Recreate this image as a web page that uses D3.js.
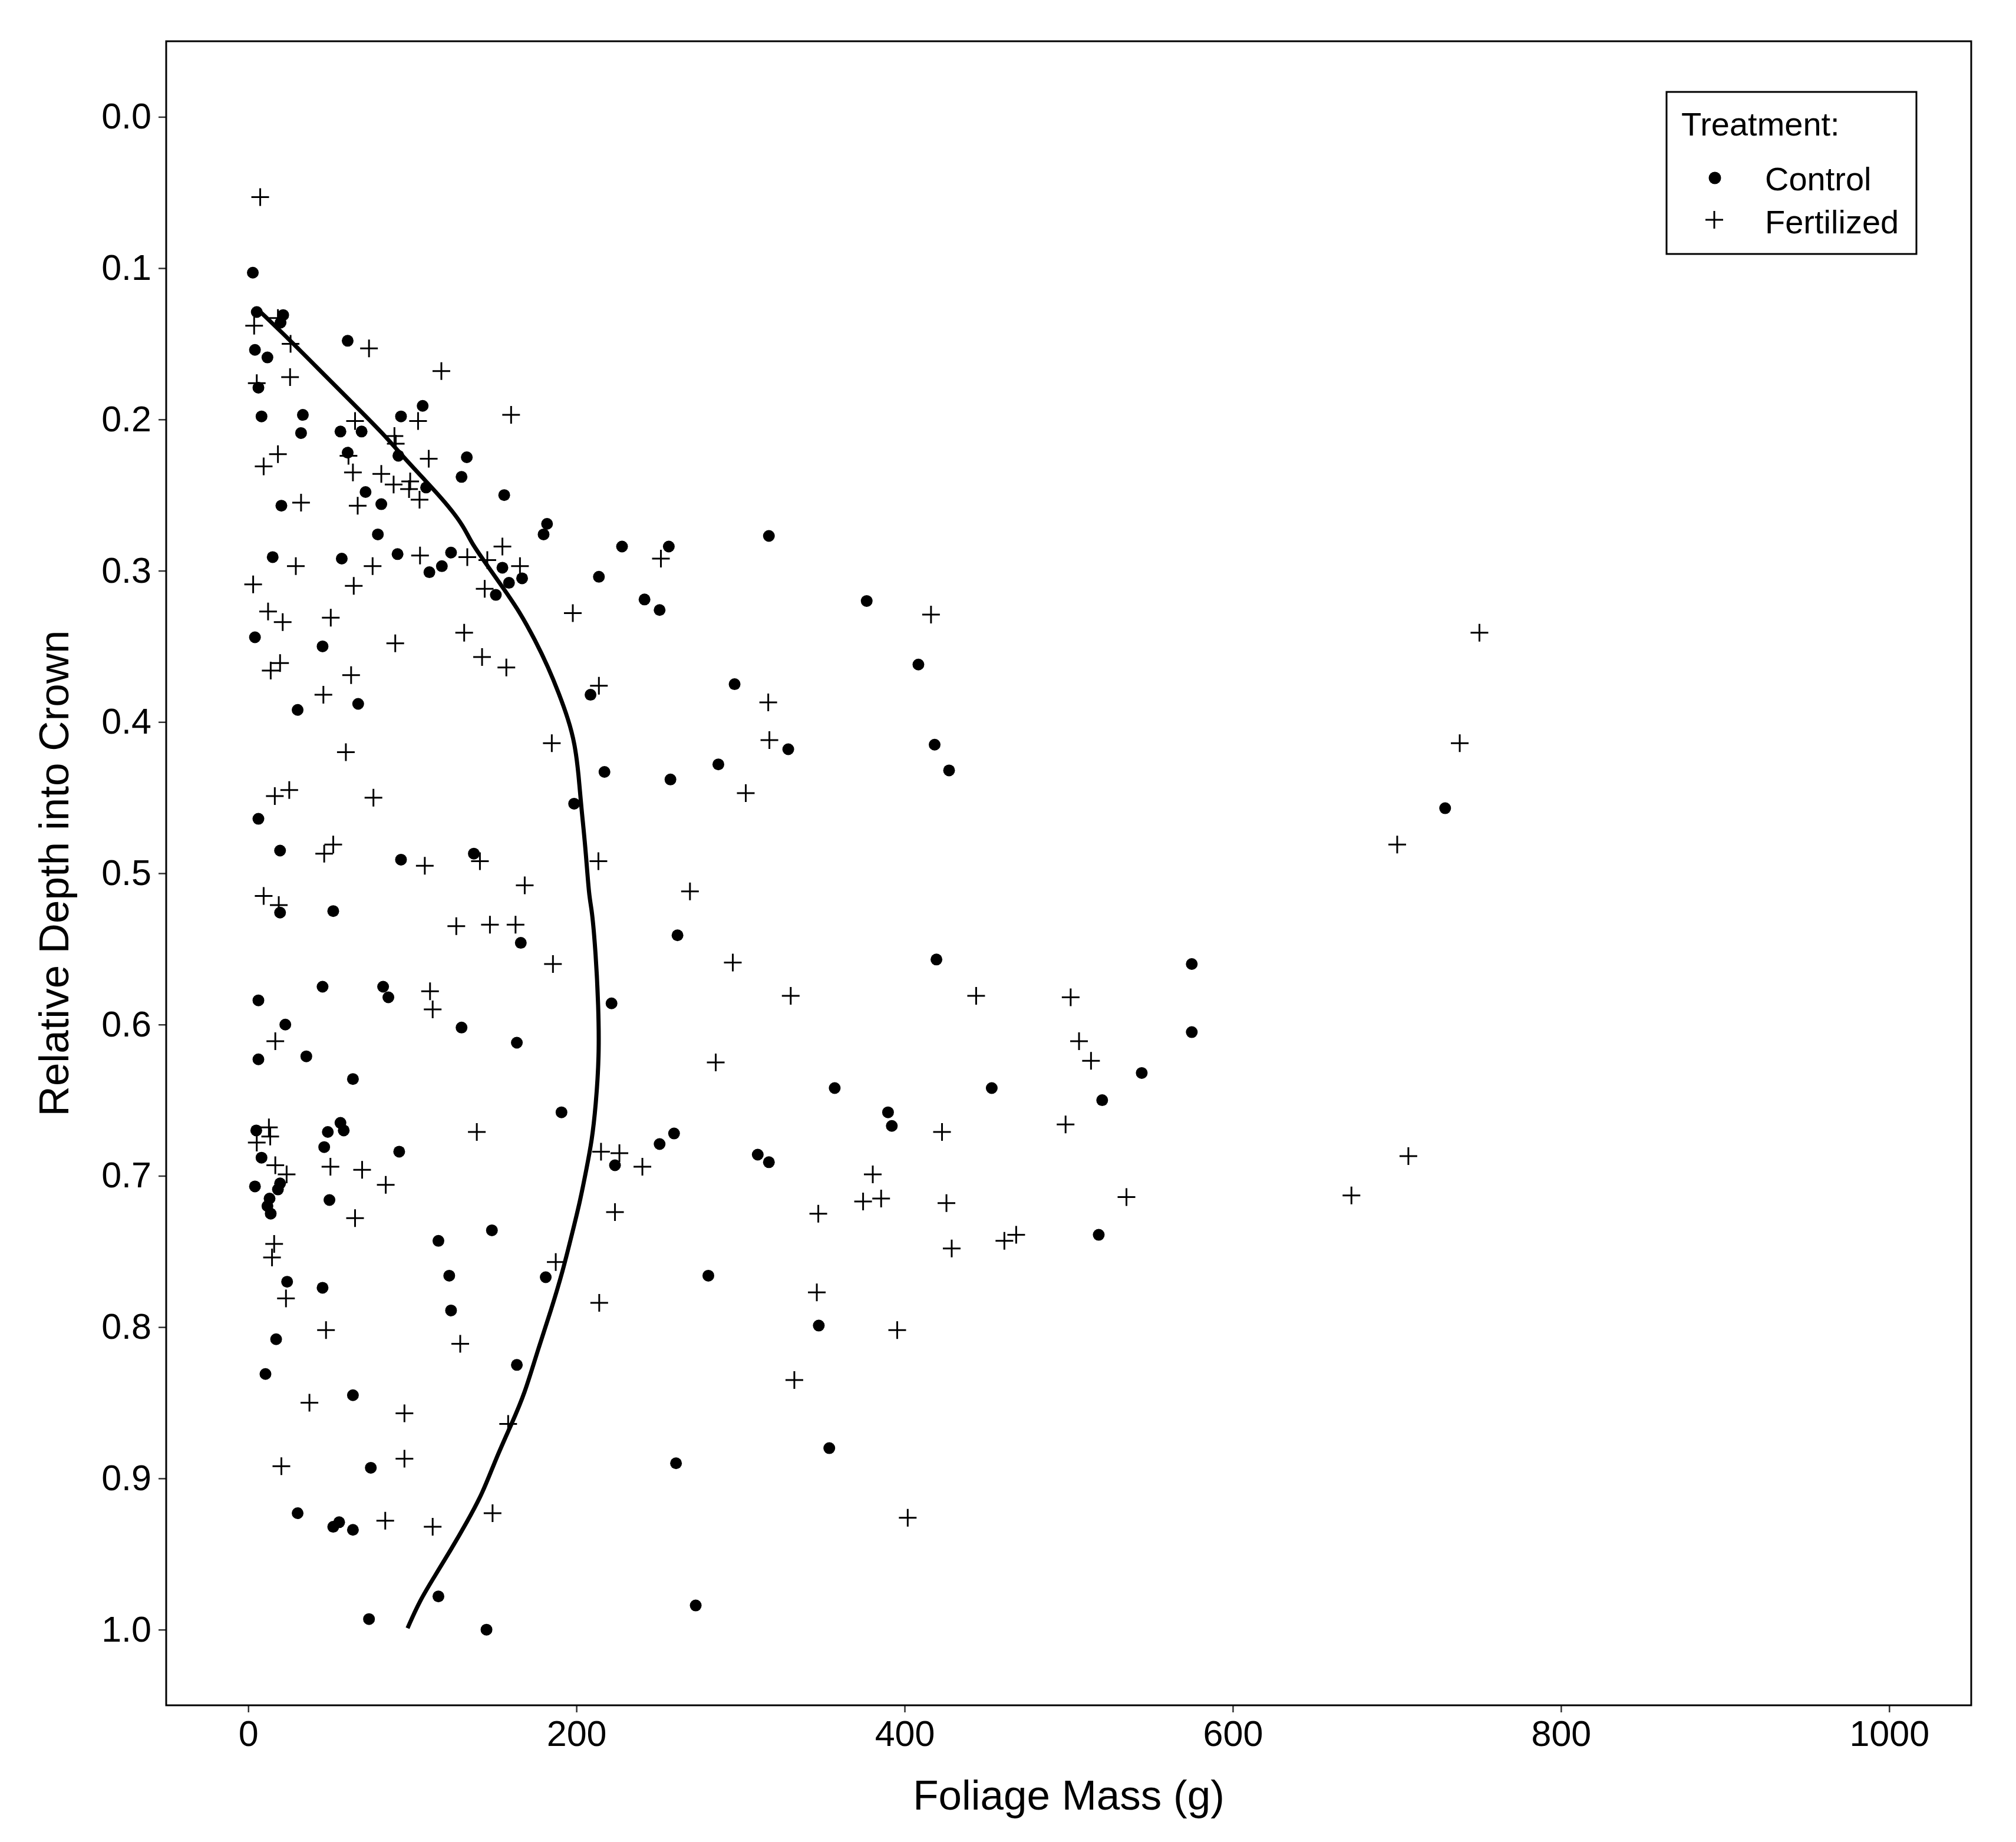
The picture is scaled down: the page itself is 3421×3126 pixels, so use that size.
<!DOCTYPE html>
<meta charset="utf-8">
<title>Foliage Mass by Relative Depth into Crown</title>
<script src="https://cdn.jsdelivr.net/npm/d3@7"></script>
<style>
body { margin: 0; background: #fff; }
svg { display: block; background: #fff; font-family: "Liberation Sans", Arial, sans-serif; }
.tick line { stroke: #333; stroke-width: 2.5; }
.tick text { fill: #000; font-size: 61px; }
.axis path.domain { display: none; }
</style>
<svg width="3421" height="3126"></svg>
<script>

// Control trees (filled dots)
var controlMass = [2.8,5.2,21.3,19.7,4.1,11.7,60.6,6.2,8.1,33.3,32.2,56.2,69.1,93.1,106.3,60.6,91.5,133.2,130.0,71.5,108.4,156.0,20.2,81.1,79.0,182.1,180.0,
  317.3,
  14.9,57.0,91.0,123.6,118.0,110.4,154.9,158.9,166.9,150.9,227.8,213.7,241.5,4.1,45.3,30.1,67.0,208.6,217.1,198.6,6.2,19.4,93.1,137.5,
  256.3,250.7,376.9,408.4,296.4,329.1,286.5,257.3,418.3,427.1,
  19.4,51.8,166.1,45.3,82.2,85.4,6.2,221.4,22.6,130.0,6.2,35.4,163.7,63.8,190.9,4.9,48.5,56.2,58.2,46.3,92.0,8.1,4.1,19.4,18.1,13.0,11.7,13.7,49.5,148.5,115.9,223.5,
  261.6,419.4,357.4,453.1,389.9,392.2,259.5,250.7,310.5,317.3,
  23.7,45.3,122.5,181.3,123.6,17.0,10.5,63.8,163.7,74.7,30.1,51.8,55.4,63.8,115.9,73.6,145.2,
  280.4,347.7,354.1,260.7,272.7,
  729.4,575.0,575.0,544.5,520.4,518.3];
var controlDepth = [0.103,0.129,0.131,0.136,0.154,0.159,0.148,0.179,0.198,0.197,0.209,0.208,0.208,0.198,0.191,0.222,0.224,0.225,0.238,0.248,0.245,0.250,0.257,0.256,0.276,0.269,0.276,
  0.277,
  0.291,0.292,0.289,0.288,0.297,0.301,0.298,0.308,0.305,0.316,0.284,0.304,0.319,0.344,0.350,0.392,0.388,0.382,0.433,0.454,0.464,0.485,0.491,0.487,
  0.284,0.326,0.320,0.362,0.375,0.418,0.428,0.438,0.415,0.432,
  0.526,0.525,0.546,0.575,0.575,0.582,0.584,0.586,0.600,0.602,0.623,0.621,0.612,0.636,0.658,0.670,0.671,0.665,0.670,0.681,0.684,0.688,0.707,0.705,0.709,0.715,0.720,0.725,0.716,0.736,0.743,0.693,
  0.541,0.557,0.642,0.642,0.658,0.667,0.672,0.679,0.686,0.691,
  0.770,0.774,0.766,0.767,0.789,0.808,0.831,0.845,0.825,0.893,0.923,0.932,0.929,0.934,0.978,0.993,1.000,
  0.766,0.799,0.880,0.890,0.984,
  0.457,0.560,0.605,0.632,0.650,0.739];

// Fertilized trees (plus signs)
var fertMass = [7.3,3.6,18.1,25.8,73.6,117.7,5.2,25.5,160.2,65.1,103.5,89.1,89.9,61.1,110.0,18.1,9.4,63.8,81.1,88.6,98.7,98.0,104.4,32.2,66.7,
  154.9,29.0,75.8,104.7,133.5,145.7,165.6,3.0,64.3,144.1,12.1,21.0,50.3,197.8,131.6,89.6,19.4,13.7,142.5,157.3,62.7,213.7,45.8,185.0,59.5,25.0,16.2,76.3,51.8,46.3,107.6,141.2,213.4,168.5,9.4,18.6,
  251.5,416.1,316.9,317.6,303.2,269.2,
  126.8,147.3,162.9,185.7,110.8,112.4,16.5,139.3,12.6,13.4,5.2,16.5,23.4,50.1,69.4,83.8,215.0,226.2,240.2,223.5,65.1,15.8,14.5,187.4,
  295.3,330.6,443.6,284.9,422.8,380.6,374.7,385.7,425.5,347.4,428.7,460.8,468.0,
  23.0,47.4,129.2,213.9,37.3,95.2,158.4,20.2,95.2,83.5,112.4,148.9,
  346.5,395.5,332.8,401.9,
  750.3,738.3,700.2,501.2,506.3,513.6,498.1,707.0,672.3,535.2];
var fertDepth = [0.053,0.138,0.133,0.150,0.153,0.168,0.176,0.172,0.197,0.201,0.201,0.211,0.216,0.224,0.226,0.223,0.231,0.235,0.236,0.243,0.241,0.246,0.253,0.255,0.257,
  0.284,0.297,0.297,0.290,0.291,0.293,0.297,0.309,0.310,0.312,0.327,0.334,0.331,0.328,0.341,0.348,0.361,0.366,0.357,0.364,0.369,0.376,0.382,0.414,0.420,0.445,0.449,0.450,0.481,0.487,0.495,0.492,0.492,0.508,0.515,0.521,
  0.292,0.329,0.387,0.412,0.447,0.512,
  0.535,0.534,0.534,0.560,0.578,0.590,0.611,0.671,0.668,0.674,0.678,0.693,0.699,0.694,0.696,0.706,0.684,0.685,0.694,0.724,0.728,0.745,0.754,0.757,
  0.559,0.581,0.581,0.625,0.671,0.699,0.717,0.715,0.718,0.725,0.748,0.743,0.739,
  0.781,0.802,0.811,0.784,0.850,0.857,0.864,0.892,0.887,0.928,0.932,0.923,
  0.777,0.802,0.835,0.926,
  0.341,0.414,0.481,0.582,0.611,0.624,0.666,0.687,0.713,0.714];

// smooth (loess) line
var curveMass = [6.5,25.8,45.0,64.3,81.9,94.7,107.6,120.4,131.6,135.6,146.0,155.7,165.3,174.9,182.9,189.3,195.0,199.0,201.4,203.0,205.4,207.8,209.4,211.8,213.4,213.9,211.8,209.4,206.2,202.2,197.4,191.7,184.5,176.5,168.5,160.5,150.9,142.8,133.2,123.6,114.0,104.4,97.1];
var curveDepth = [0.128,0.148,0.169,0.190,0.209,0.225,0.240,0.255,0.271,0.281,0.297,0.312,0.327,0.346,0.364,0.381,0.398,0.414,0.435,0.457,0.481,0.517,0.523,0.553,0.587,0.621,0.654,0.677,0.695,0.717,0.738,0.763,0.789,0.815,0.844,0.864,0.887,0.910,0.929,0.947,0.964,0.981,0.999];

var xTicks = [0, 200, 400, 600, 800, 1000];
var yTicks = [0, 0.1, 0.2, 0.3, 0.4, 0.5, 0.6, 0.7, 0.8, 0.9, 1.0];
var legendLabels = ["Control", "Fertilized"];

var svg = d3.select("svg");
var plotL = 282, plotR = 3345, plotT = 70, plotB = 2894;

var x = d3.scaleLinear().domain([-50, 1050]).range([plotL, plotR]);
var y = d3.scaleLinear().domain([-0.05, 1.05]).range([plotT, plotB]);

svg.append("g")
    .attr("class", "axis")
    .attr("transform", "translate(0," + plotB + ")")
    .call(d3.axisBottom(x).tickValues(xTicks).tickSize(12).tickSizeOuter(0).tickPadding(14).tickFormat(d3.format("d")));

svg.append("g")
    .attr("class", "axis")
    .attr("transform", "translate(" + plotL + ",0)")
    .call(d3.axisLeft(y).tickValues(yTicks).tickSize(13).tickSizeOuter(0).tickPadding(12).tickFormat(d3.format(".1f")));

svg.selectAll(".tick text").attr("font-family", "Liberation Sans, Arial, sans-serif");

// panel frame
svg.append("rect")
    .attr("x", plotL).attr("y", plotT)
    .attr("width", plotR - plotL).attr("height", plotB - plotT)
    .attr("fill", "none").attr("stroke", "#000").attr("stroke-width", 3);

var plus = "M-15,0H15M0,-15V15";

svg.append("g").selectAll("circle")
  .data(controlMass)
  .enter().append("circle")
    .attr("cx", function(d) { return x(d); })
    .attr("cy", function(d, i) { return y(controlDepth[i]); })
    .attr("r", 10)
    .attr("fill", "#000");

svg.append("g").selectAll("path")
  .data(fertMass)
  .enter().append("path")
    .attr("transform", function(d, i) { return "translate(" + x(d) + "," + y(fertDepth[i]) + ")"; })
    .attr("d", plus)
    .attr("stroke", "#000").attr("stroke-width", 3).attr("fill", "none");

var line = d3.line()
    .x(function(d) { return x(d); })
    .y(function(d, i) { return y(curveDepth[i]); })
    .curve(d3.curveBasis);

svg.append("path")
    .attr("d", line(curveMass))
    .attr("fill", "none").attr("stroke", "#000").attr("stroke-width", 7)
    .attr("stroke-linejoin", "round");

// axis titles
svg.append("text")
    .attr("x", (plotL + plotR) / 2).attr("y", 3071)
    .attr("text-anchor", "middle")
    .attr("font-size", 71)
    .text("Foliage Mass (g)");

svg.append("text")
    .attr("transform", "translate(116," + (plotT + plotB) / 2 + ") rotate(-90)")
    .attr("text-anchor", "middle")
    .attr("font-size", 71)
    .text("Relative Depth into Crown");

// legend
var lg = svg.append("g");
lg.append("rect")
    .attr("x", 2828).attr("y", 156).attr("width", 424).attr("height", 275)
    .attr("fill", "#fff").attr("stroke", "#000").attr("stroke-width", 3);
lg.append("text").attr("x", 2853).attr("y", 230).attr("font-size", 56).text("Treatment:");
lg.append("circle").attr("cx", 2910).attr("cy", 302).attr("r", 10.5).attr("fill", "#000");
lg.append("path").attr("transform", "translate(2909,373)").attr("d", plus)
    .attr("stroke", "#000").attr("stroke-width", 3);
lg.selectAll(".lab")
  .data(legendLabels)
  .enter().append("text")
    .attr("class", "lab")
    .attr("x", 2995)
    .attr("y", function(d, i) { return 323 + i * 73; })
    .attr("font-size", 56)
    .text(function(d) { return d; });

</script>
